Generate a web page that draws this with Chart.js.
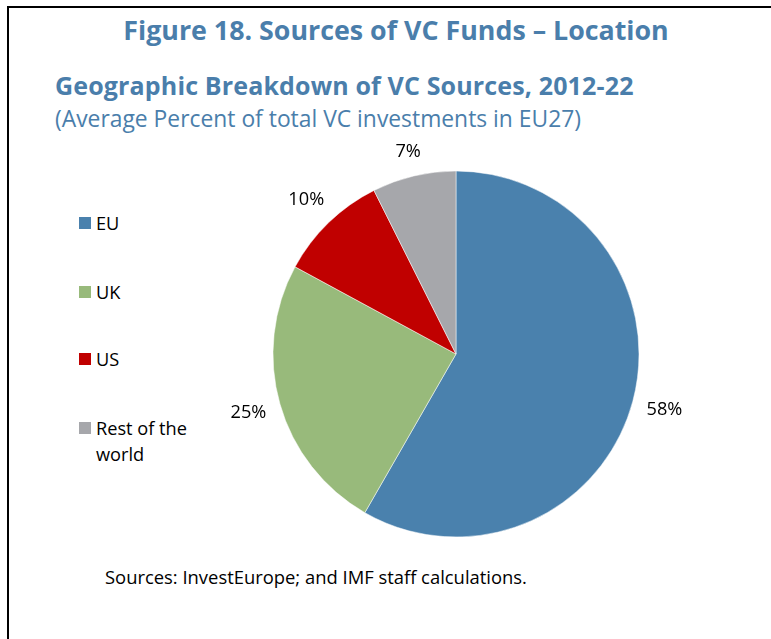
<!DOCTYPE html>
<html>
<head>
<meta charset="utf-8">
<script src="https://cdn.jsdelivr.net/npm/chart.js@4/dist/chart.umd.min.js"></script>
<style>
  html, body { margin: 0; padding: 0; background: #fff; }
  #page { position: relative; width: 771px; height: 639px; overflow: hidden; background: #fff; font-family: "Open Sans", "Noto Sans", sans-serif; }
  #frame { position: absolute; left: 7px; top: 6px; width: 800px; height: 700px; border-left: 2.5px solid #000; border-top: 2.5px solid #000; }
  .t { position: absolute; white-space: nowrap; color: #4A7EAB; }
  #title { left: 0; width: 792px; text-align: center; top: 11px; font-size: 26.8px; font-weight: 700; }
  #sub1 { left: 55px; top: 68px; font-size: 25px; font-weight: 700; letter-spacing: 0.15px; }
  #sub2 { left: 55px; top: 103px; font-size: 22.85px; font-weight: 400; }
  #legend { position: absolute; left: 79px; top: 0; font-size: 18.2px; color: #000; }
  .li { position: absolute; left: 0; white-space: nowrap; }
  .sw { position: absolute; left: 0; width: 12px; height: 12px; }
  .lt { position: absolute; left: 17px; line-height: 26px; }
  #src { position: absolute; left: 105px; top: 564px; font-size: 18.4px; color: #000; white-space: nowrap; }
  #wrap { position: absolute; left: 206px; top: 104px; width: 500px; height: 500px; }
</style>
</head>
<body>
<div id="page">
  <div id="frame"></div>
  <div class="t" id="title">Figure 18. Sources of VC Funds – Location</div>
  <div class="t" id="sub1">Geographic Breakdown of VC Sources, 2012-22</div>
  <div class="t" id="sub2">(Average Percent of total VC investments in EU27)</div>
  <div id="legend"></div>
  <div id="src">Sources: InvestEurope; and IMF staff calculations.</div>
  <div id="wrap"><canvas id="c" width="500" height="500"></canvas></div>
</div>
<script>
const categories = ["EU", "UK", "US", "Rest of the world"];
const legendLines = [["EU"], ["UK"], ["US"], ["Rest of the", "world"]];
// shares; printed labels are these rounded (58%, 25%, 10%, 7%)
const shares = [58.3, 24.6, 9.7, 7.4];
const colors = ["#4A81AD", "#98BA7B", "#C00000", "#A6A7AB"];

// HTML legend built from the data arrays
const legendTops = [210, 279, 346, 415];
const legend = document.getElementById('legend');
categories.forEach((c, i) => {
  const item = document.createElement('div');
  item.className = 'li';
  item.style.top = legendTops[i] + 'px';
  const sw = document.createElement('div');
  sw.className = 'sw';
  sw.style.top = '7px';
  sw.style.background = colors[i];
  const lt = document.createElement('div');
  lt.className = 'lt';
  lt.innerHTML = legendLines[i].join('<br>');
  item.appendChild(sw); item.appendChild(lt);
  legend.appendChild(item);
});

// Labels placed outside the pie: the nearest point of each label box sits a fixed gap beyond the rim
const outsideLabels = {
  id: 'outsideLabels',
  afterDatasetsDraw(chart) {
    const ctx = chart.ctx;
    const meta = chart.getDatasetMeta(0);
    ctx.save();
    ctx.font = '18.2px "Open Sans", "Noto Sans", sans-serif';
    ctx.fillStyle = '#000';
    ctx.textAlign = 'center';
    ctx.textBaseline = 'middle';
    const gap = 13, h = 19;
    meta.data.forEach((arc, i) => {
      const p = arc.getProps(['x', 'y', 'startAngle', 'endAngle', 'outerRadius'], true);
      const txt = Math.round(shares[i]) + '%';
      const w = ctx.measureText(txt).width;
      const mid = (p.startAngle + p.endAngle) / 2;
      const ux = Math.cos(mid), uy = Math.sin(mid);
      const target = p.outerRadius + gap;
      let lo = 0, hi = p.outerRadius + 200;
      for (let k = 0; k < 40; k++) {
        const D = (lo + hi) / 2;
        const cx = ux * D, cy = uy * D;
        const nx = Math.max(cx - w / 2, Math.min(0, cx + w / 2));
        const ny = Math.max(cy - h / 2, Math.min(0, cy + h / 2));
        if (Math.hypot(nx, ny) < target) lo = D; else hi = D;
      }
      const D = (lo + hi) / 2;
      ctx.fillText(txt, p.x + ux * D, p.y + uy * D);
    });
    ctx.restore();
  }
};

new Chart(document.getElementById('c'), {
  type: 'pie',
  data: {
    labels: categories,
    datasets: [{
      data: shares,
      backgroundColor: colors,
      borderColor: '#ffffff',
      borderWidth: 0.5,
      radius: 183
    }]
  },
  options: {
    responsive: false,
    animation: false,
    rotation: 0,
    plugins: { legend: { display: false }, tooltip: { enabled: false }, title: { display: false } }
  },
  plugins: [outsideLabels]
});
</script>
</body>
</html>
